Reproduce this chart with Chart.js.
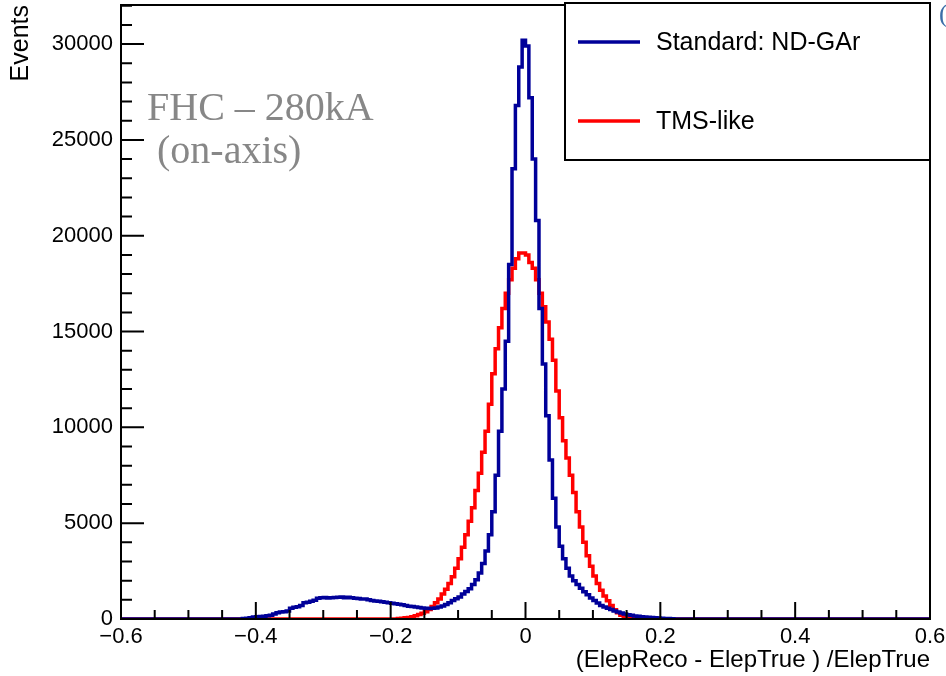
<!DOCTYPE html>
<html>
<head>
<meta charset="utf-8">
<script src="https://cdn.jsdelivr.net/npm/chart.js@4.4.1/dist/chart.umd.min.js"></script>
<style>
  html, body { margin: 0; padding: 0; background: #fff; }
  #wrap { width: 946px; height: 676px; }
</style>
</head>
<body>
<div id="wrap"><canvas id="myChart" width="946" height="676"></canvas></div>
<script>
//////////////////////////// DATA ////////////////////////////////////////////
// histogram binning (x = (ElepReco - ElepTrue)/ElepTrue)
const xMin = -0.6;
const xMax = 0.6;
const binWidth = 0.005;

// Standard: ND-GAr, first non-empty bin starts at -0.42
const blueStart = -0.42;
const blueCounts = [
  20, 40, 70, 100, 120, 130, 150, 170, 200, 260,
  330, 360, 380, 420, 560, 610, 640, 700, 850, 880,
  920, 980, 1080, 1110, 1120, 1100, 1110, 1120, 1130, 1150,
  1110, 1140, 1110, 1080, 1070, 1050, 1040, 1000, 960, 940,
  930, 900, 880, 850, 820, 790, 770, 740, 700, 670,
  650, 620, 600, 580, 560, 550, 560, 580, 620, 680,
  760, 850, 960, 1060, 1150, 1300, 1430, 1580, 1800, 2050,
  2400, 2900, 3550, 4400, 5600, 7500, 9800, 12000, 14500, 18500,
  23500, 26800, 28800, 30200, 29900, 27200, 24000, 20800, 16200, 13300,
  10600, 8300, 6300, 4800, 3800, 3150, 2650, 2250, 2000, 1800,
  1600, 1420, 1260, 1100, 960, 830, 710, 630, 560, 490,
  420, 360, 310, 260, 220, 190, 160, 140, 120, 100,
  90, 80, 60, 50, 40, 30, 20, 10
];

// TMS-like, first non-empty bin starts at -0.19
const redStart = -0.19;
const redCounts = [
  20, 40, 60, 80, 120, 170, 230, 300, 380, 500,
  650, 850, 1050, 1300, 1550, 1850, 2200, 2650, 3150, 3750,
  4400, 5100, 5800, 6700, 7600, 8700, 9800, 11200, 12800, 14100,
  15200, 16200, 17000, 17700, 18300, 18800, 19100, 19100, 19000, 18600,
  18300, 17700, 17000, 16300, 15500, 14600, 13500, 11900, 10500, 9300,
  8400, 7500, 6600, 5600, 4800, 4000, 3300, 2750, 2250, 1850,
  1500, 1200, 950, 700, 480, 320, 190, 100, 50, 40,
  30, 20, 10
];

const seriesNames = ["Standard: ND-GAr", "TMS-like"];
const xTickValues = [-0.6, -0.4, -0.2, 0, 0.2, 0.4, 0.6];
const xTickLabels = ["\u22120.6", "\u22120.4", "\u22120.2", "0", "0.2", "0.4", "0.6"];
const yTickValues = [0, 5000, 10000, 15000, 20000, 25000, 30000];
const yMax = 32040;
const xTitle = "(ElepReco - ElepTrue ) /ElepTrue";
const yTitle = "Events";
const noteLines = ["FHC \u2013 280kA", " (on-axis)"];

//////////////////////////// HISTOGRAM -> POINTS /////////////////////////////
// one point per bin low edge, drawn with stepped "before" (flat, then jump)
function histPoints(start, counts) {
  let pts = [{ x: xMin, y: 0 }];
  counts.forEach((c, i) => {
    pts.push({ x: start + i * binWidth, y: c });
  });
  pts.push({ x: start + counts.length * binWidth, y: 0 });
  pts.push({ x: xMax, y: 0 });
  return pts;
}

//////////////////////////// ROOT STYLE FRAME / TICKS / LEGEND ///////////////
const rootStyle = {
  id: "rootStyle",
  afterDatasetsDraw(chart) {
    const ctx = chart.ctx;
    const a = chart.chartArea;
    const xs = chart.scales.x;
    const ys = chart.scales.y;
    ctx.save();
    ctx.strokeStyle = "#000";
    ctx.lineWidth = 2;

    // frame
    ctx.strokeRect(a.left, a.top, a.right - a.left, a.bottom - a.top);

    // x ticks (inward), 4 minor divisions
    ctx.beginPath();
    for (let k = 0; k <= 24; k++) {
      let px = xs.getPixelForValue(xMin + k * 0.05);
      let len = (k % 4 === 0) ? 17 : 9;
      ctx.moveTo(px, a.bottom);
      ctx.lineTo(px, a.bottom - len);
    }
    // y ticks (inward), 5 minor divisions
    for (let v = 0; v <= yMax; v += 1000) {
      let py = ys.getPixelForValue(v);
      let len = (v % 5000 === 0) ? 23 : 11;
      ctx.moveTo(a.left, py);
      ctx.lineTo(a.left + len, py);
    }
    ctx.stroke();

    // legend box
    const lx = 565, ly = 3, lw = 365, lh = 157;
    ctx.fillStyle = "#fff";
    ctx.fillRect(lx, ly, lw, lh);
    ctx.strokeRect(lx, ly, lw, lh);
    ctx.font = "25px 'Liberation Sans', Arial, sans-serif";
    ctx.textBaseline = "middle";
    ctx.textAlign = "left";
    chart.data.datasets.forEach((ds, i) => {
      let yy = 42 + i * 79;
      ctx.strokeStyle = ds.borderColor;
      ctx.lineWidth = 3.5;
      ctx.beginPath();
      ctx.moveTo(578, yy);
      ctx.lineTo(640, yy);
      ctx.stroke();
      ctx.fillStyle = "#000";
      ctx.fillText(ds.label, 656, yy + 1);
    });

    // note text
    ctx.fillStyle = "#878787";
    ctx.font = "40px 'Liberation Serif', 'Times New Roman', serif";
    ctx.textBaseline = "alphabetic";
    ctx.fillText(noteLines[0], 147, 120);
    ctx.fillText(noteLines[1], 147, 163);

    // clipped label at the right edge
    ctx.fillStyle = "#3b6ea8";
    ctx.font = "26px 'Liberation Serif', serif";
    ctx.fillText("(", 939, 22);
    ctx.restore();
  }
};

//////////////////////////// CHART ////////////////////////////////////////////
const data = {
  datasets: [
    {
      label: seriesNames[0],
      data: histPoints(blueStart, blueCounts),
      borderColor: "#000099",
      borderWidth: 3.5,
      stepped: "before",
      pointRadius: 0,
      fill: false,
    },
    {
      label: seriesNames[1],
      data: histPoints(redStart, redCounts),
      borderColor: "#ff0000",
      borderWidth: 3.5,
      stepped: "before",
      pointRadius: 0,
      fill: false,
    },
  ],
};

const axisFont = "'Liberation Sans', Arial, sans-serif";

const config = {
  type: "line",
  data: data,
  options: {
    responsive: false,
    animation: false,
    layout: { padding: { left: 0, right: 16, top: 5, bottom: 0 } },
    plugins: { legend: { display: false }, tooltip: { enabled: false } },
    scales: {
      x: {
        type: "linear",
        min: xMin,
        max: xMax,
        grid: { display: false, drawTicks: false },
        border: { display: false },
        afterBuildTicks: (s) => { s.ticks = xTickValues.map((v) => ({ value: v })); },
        ticks: {
          padding: 5,
          autoSkip: false,
          maxRotation: 0,
          color: "#000",
          font: { family: axisFont, size: 22 },
          callback: (v, i) => xTickLabels[i],
        },
        title: {
          display: true,
          text: xTitle,
          align: "end",
          color: "#000",
          padding: { top: 0, bottom: 1 },
          font: { family: axisFont, size: 24 },
        },
        afterFit: (s) => {
          s.height = 57;
          s.paddingLeft = 0;
          s.paddingRight = 0;
        },
      },
      y: {
        min: 0,
        max: yMax,
        grid: { display: false, drawTicks: false },
        border: { display: false },
        afterBuildTicks: (s) => { s.ticks = yTickValues.map((v) => ({ value: v })); },
        ticks: {
          padding: 8,
          color: "#000",
          font: { family: axisFont, size: 22 },
          callback: (v) => String(v),
        },
        title: {
          display: true,
          text: yTitle,
          align: "end",
          color: "#000",
          padding: { top: 6, bottom: 0 },
          font: { family: axisFont, size: 25 },
        },
        afterFit: (s) => {
          s.width = 121;
          s.paddingTop = 0;
          s.paddingBottom = 0;
        },
      },
    },
  },
  plugins: [rootStyle],
};

const myChart = new Chart(document.getElementById("myChart"), config);
</script>
</body>
</html>
